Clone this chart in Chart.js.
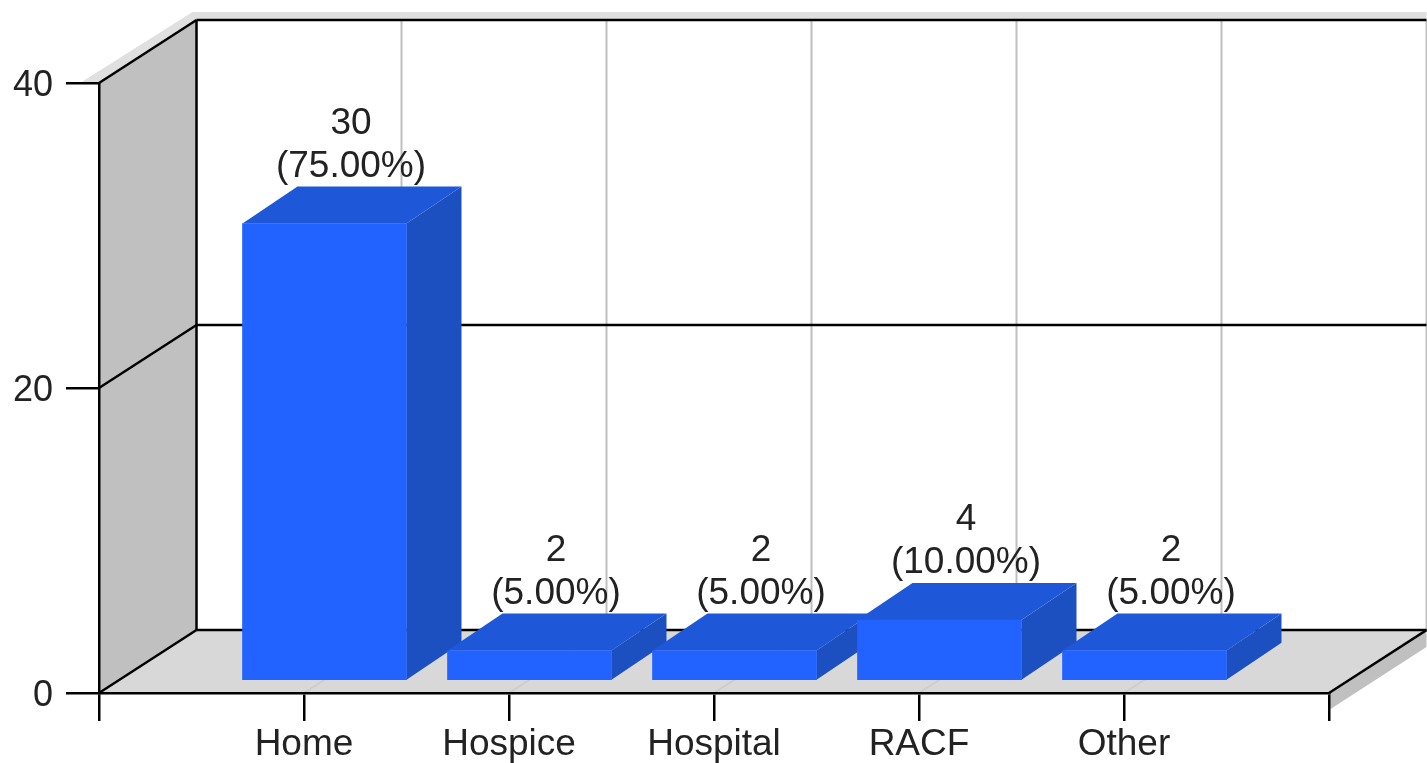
<!DOCTYPE html>
<html>
<head>
<meta charset="utf-8">
<title>Place of death</title>
<script src="https://cdn.jsdelivr.net/npm/chart.js@4"></script>
<style>
    html, body { margin: 0; padding: 0; background: #fff; overflow: hidden; }
    canvas { display: block; }
</style>
</head>
<body>
<canvas id="chart" width="1427" height="763"></canvas>
<script>
// blank first and last slots so the axis has end ticks with no bar on them
const categories = ['', 'Home', 'Hospice', 'Hospital', 'RACF', 'Other', ''];
const counts = [null, 30, 2, 2, 4, 2, null];
const percents = ['', '(75.00%)', '(5.00%)', '(5.00%)', '(10.00%)', '(5.00%)', ''];
const yTicks = [0, 20, 40];

// box depth of the plot and of the bars
const wallX = 97.5, wallY = -63;
const barShiftX = 20.5, barShiftY = -12;
const barDepthX = 55, barDepthY = -37;

const fontFamily = '"Liberation Sans", Arial, sans-serif';
const lineWidth = 2.5;

function fillPoly(ctx, color, pts) {
    ctx.fillStyle = color;
    ctx.beginPath();
    pts.forEach((p, i) => i ? ctx.lineTo(p[0], p[1]) : ctx.moveTo(p[0], p[1]));
    ctx.closePath();
    ctx.fill();
}

function strokeLine(ctx, color, width, x1, y1, x2, y2) {
    ctx.strokeStyle = color;
    ctx.lineWidth = width;
    ctx.beginPath();
    ctx.moveTo(x1, y1);
    ctx.lineTo(x2, y2);
    ctx.stroke();
}

// walls, floor and grid of the box, under the axes
const boxPlugin = {
    id: 'box',
    beforeDraw(chart) {
        const ctx = chart.ctx;
        const x = chart.scales.x, y = chart.scales.y;
        const left = x.left, right = x.right;
        const bottom = y.getPixelForValue(0), top = y.getPixelForValue(40);
        const backLeft = left + wallX, backRight = right + wallX;
        const backBottom = bottom + wallY, backTop = top + wallY;

        ctx.save();
        // outer edge strips
        fillPoly(ctx, '#e0e0e0', [[left - 19, top], [left, top], [backLeft, backTop], [backRight, backTop], [backRight, backTop - 8], [backLeft - 4, backTop - 8]]);
        fillPoly(ctx, '#c0c0c0', [[right, bottom], [backRight, backBottom], [backRight, backBottom + 17], [right, bottom + 17]]);
        // side wall and floor
        fillPoly(ctx, '#c0c0c0', [[left, bottom], [backLeft, backBottom], [backLeft, backTop], [left, top]]);
        fillPoly(ctx, '#d8d8d8', [[left, bottom], [backLeft, backBottom], [backRight, backBottom], [right, bottom]]);

        // vertical grid on the back wall, running on across the floor
        for (let i = 1; i < categories.length; i++) {
            const px = x.getPixelForTick(i);
            strokeLine(ctx, '#c0c0c0', 2, px + wallX, backTop, px + wallX, backBottom);
            if (i < categories.length - 1) {
                strokeLine(ctx, '#cccccc', 1.5, px, bottom, px + wallX, backBottom);
            }
        }

        // value grid round the side and back walls
        yTicks.forEach(v => {
            const py = y.getPixelForValue(v);
            strokeLine(ctx, '#000', lineWidth, left, py, backLeft, py + wallY);
            strokeLine(ctx, '#000', lineWidth, backLeft, py + wallY, backRight, py + wallY);
        });
        strokeLine(ctx, '#000', lineWidth, backLeft, backTop, backLeft, backBottom);
        strokeLine(ctx, '#000', lineWidth, right, bottom, backRight, backBottom);
        ctx.restore();
    }
};

// top and side faces come first, the library then paints the front faces
const barBoxPlugin = {
    id: 'barBox',
    beforeDatasetDraw(chart, args) {
        const ctx = chart.ctx;
        ctx.save();
        ctx.translate(barShiftX, barShiftY);
        args.meta.data.forEach((bar, i) => {
            if (counts[i] === null) return;
            const l = bar.x - bar.width / 2, r = bar.x + bar.width / 2;
            fillPoly(ctx, '#1c50c0', [[r, bar.y], [r + barDepthX, bar.y + barDepthY], [r + barDepthX, bar.base + barDepthY], [r, bar.base]]);
            fillPoly(ctx, '#1e58d8', [[l, bar.y], [l + barDepthX, bar.y + barDepthY], [r + barDepthX, bar.y + barDepthY], [r, bar.y]]);
        });
    },
    afterDatasetDraw(chart) {
        chart.ctx.restore();
    }
};

// two line value label above each bar, and the value axis numbers
const labelPlugin = {
    id: 'labels',
    afterDatasetsDraw(chart) {
        const ctx = chart.ctx;
        const y = chart.scales.y;
        ctx.save();
        ctx.fillStyle = '#222';
        ctx.textBaseline = 'alphabetic';

        ctx.font = '37px ' + fontFamily;
        ctx.textAlign = 'center';
        chart.getDatasetMeta(0).data.forEach((bar, i) => {
            if (counts[i] === null) return;
            const cx = bar.x + barShiftX + barDepthX / 2 - 1;
            const cy = bar.y + barShiftY + barDepthY;
            ctx.fillText(String(counts[i]), cx, cy - 53);
            ctx.fillText(percents[i], cx, cy - 10);
        });

        ctx.font = '36px ' + fontFamily;
        ctx.textAlign = 'right';
        yTicks.forEach(v => {
            ctx.fillText(String(v), y.left + 53, y.getPixelForValue(v) + 13);
        });
        ctx.restore();
    }
};

new Chart(document.getElementById('chart'), {
    type: 'bar',
    data: {
        labels: categories,
        datasets: [{
            data: counts,
            backgroundColor: '#2262ff',
            borderWidth: 0,
            barThickness: 164,
            clip: false
        }]
    },
    options: {
        responsive: false,
        animation: false,
        events: [],
        layout: { padding: { top: 83, right: 98, left: 0, bottom: 0 } },
        plugins: {
            legend: { display: false },
            title: { display: false },
            tooltip: { enabled: false }
        },
        scales: {
            x: {
                offset: false,
                grid: { offset: false, drawOnChartArea: false, color: '#000', lineWidth: lineWidth, tickLength: 28 },
                border: { display: true, color: '#000', width: lineWidth },
                ticks: {
                    autoSkip: false,
                    maxRotation: 0,
                    padding: 2,
                    color: '#222',
                    font: { family: fontFamily, size: 37 }
                },
                afterFit(scale) { scale.height = 70; }
            },
            y: {
                min: 0,
                max: 40,
                afterBuildTicks(scale) { scale.ticks = yTicks.map(v => ({ value: v })); },
                grid: { drawOnChartArea: false, color: '#000', lineWidth: lineWidth, tickLength: 33 },
                border: { display: true, color: '#000', width: lineWidth },
                ticks: { display: false },
                afterFit(scale) { scale.width = 99; }
            }
        }
    },
    plugins: [boxPlugin, barBoxPlugin, labelPlugin]
});
</script>
</body>
</html>
